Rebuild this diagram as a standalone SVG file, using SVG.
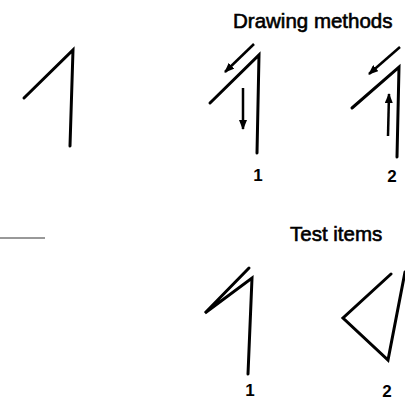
<svg xmlns="http://www.w3.org/2000/svg" width="405" height="402" viewBox="0 0 405 402">
<style>
.stroke{fill:none;stroke:#000;stroke-width:3;stroke-linecap:round;stroke-linejoin:miter}
.arrow{fill:none;stroke:#000;stroke-width:2.5;stroke-linecap:butt}
.title{font-family:"Liberation Sans",Arial,sans-serif;font-size:20.5px;fill:#000;stroke:#000;stroke-width:0.6}
.num{font-family:"Liberation Sans",Arial,sans-serif;font-size:17px;font-weight:bold;fill:#000;text-anchor:middle}
</style>
<defs>
<marker id="ah" viewBox="0 0 10 8" refX="9" refY="4" markerWidth="10" markerHeight="8" markerUnits="userSpaceOnUse" orient="auto">
<path d="M0,0 L10,4 L0,8 Z" fill="#000"/>
</marker>
</defs>
<rect width="405" height="402" fill="#fff"/>
<g id="headings">
<text class="title" x="233" y="28">Drawing methods</text>
<text class="title" x="290" y="241">Test items</text>
</g>
<g id="rule"><line x1="0" y1="238" x2="45" y2="238" stroke="#333" stroke-width="1"/></g>
<g id="figure-plain">
<path class="stroke" d="M24,98 L73,50 L70,146"/>
</g>
<g id="method-1">
<path class="stroke" d="M210,103 L259,55 L257,153"/>
<text class="num" x="258" y="181">1</text>
</g>
<g id="method-2">
<path class="stroke" d="M352,108 L399,67 L397,157"/>
<text class="num" x="392" y="182">2</text>
</g>
<g id="test-1">
<path class="stroke" d="M249,268 L205,313 L252,278 L248,374"/>
<text class="num" x="250" y="396">1</text>
</g>
<g id="test-2">
<path class="stroke" d="M391,274 L343,318 L388,360 L405,272"/>
<text class="num" x="387" y="397">2</text>
</g>
<g id="connectors">
<line class="arrow" x1="254" y1="44" x2="225" y2="72" marker-end="url(#ah)"/>
<line class="arrow" x1="243" y1="88" x2="243" y2="129" marker-end="url(#ah)"/>
<line class="arrow" x1="400" y1="47" x2="369" y2="74" marker-end="url(#ah)"/>
<line class="arrow" x1="388" y1="136" x2="389" y2="94" marker-end="url(#ah)"/>
</g>
</svg>
